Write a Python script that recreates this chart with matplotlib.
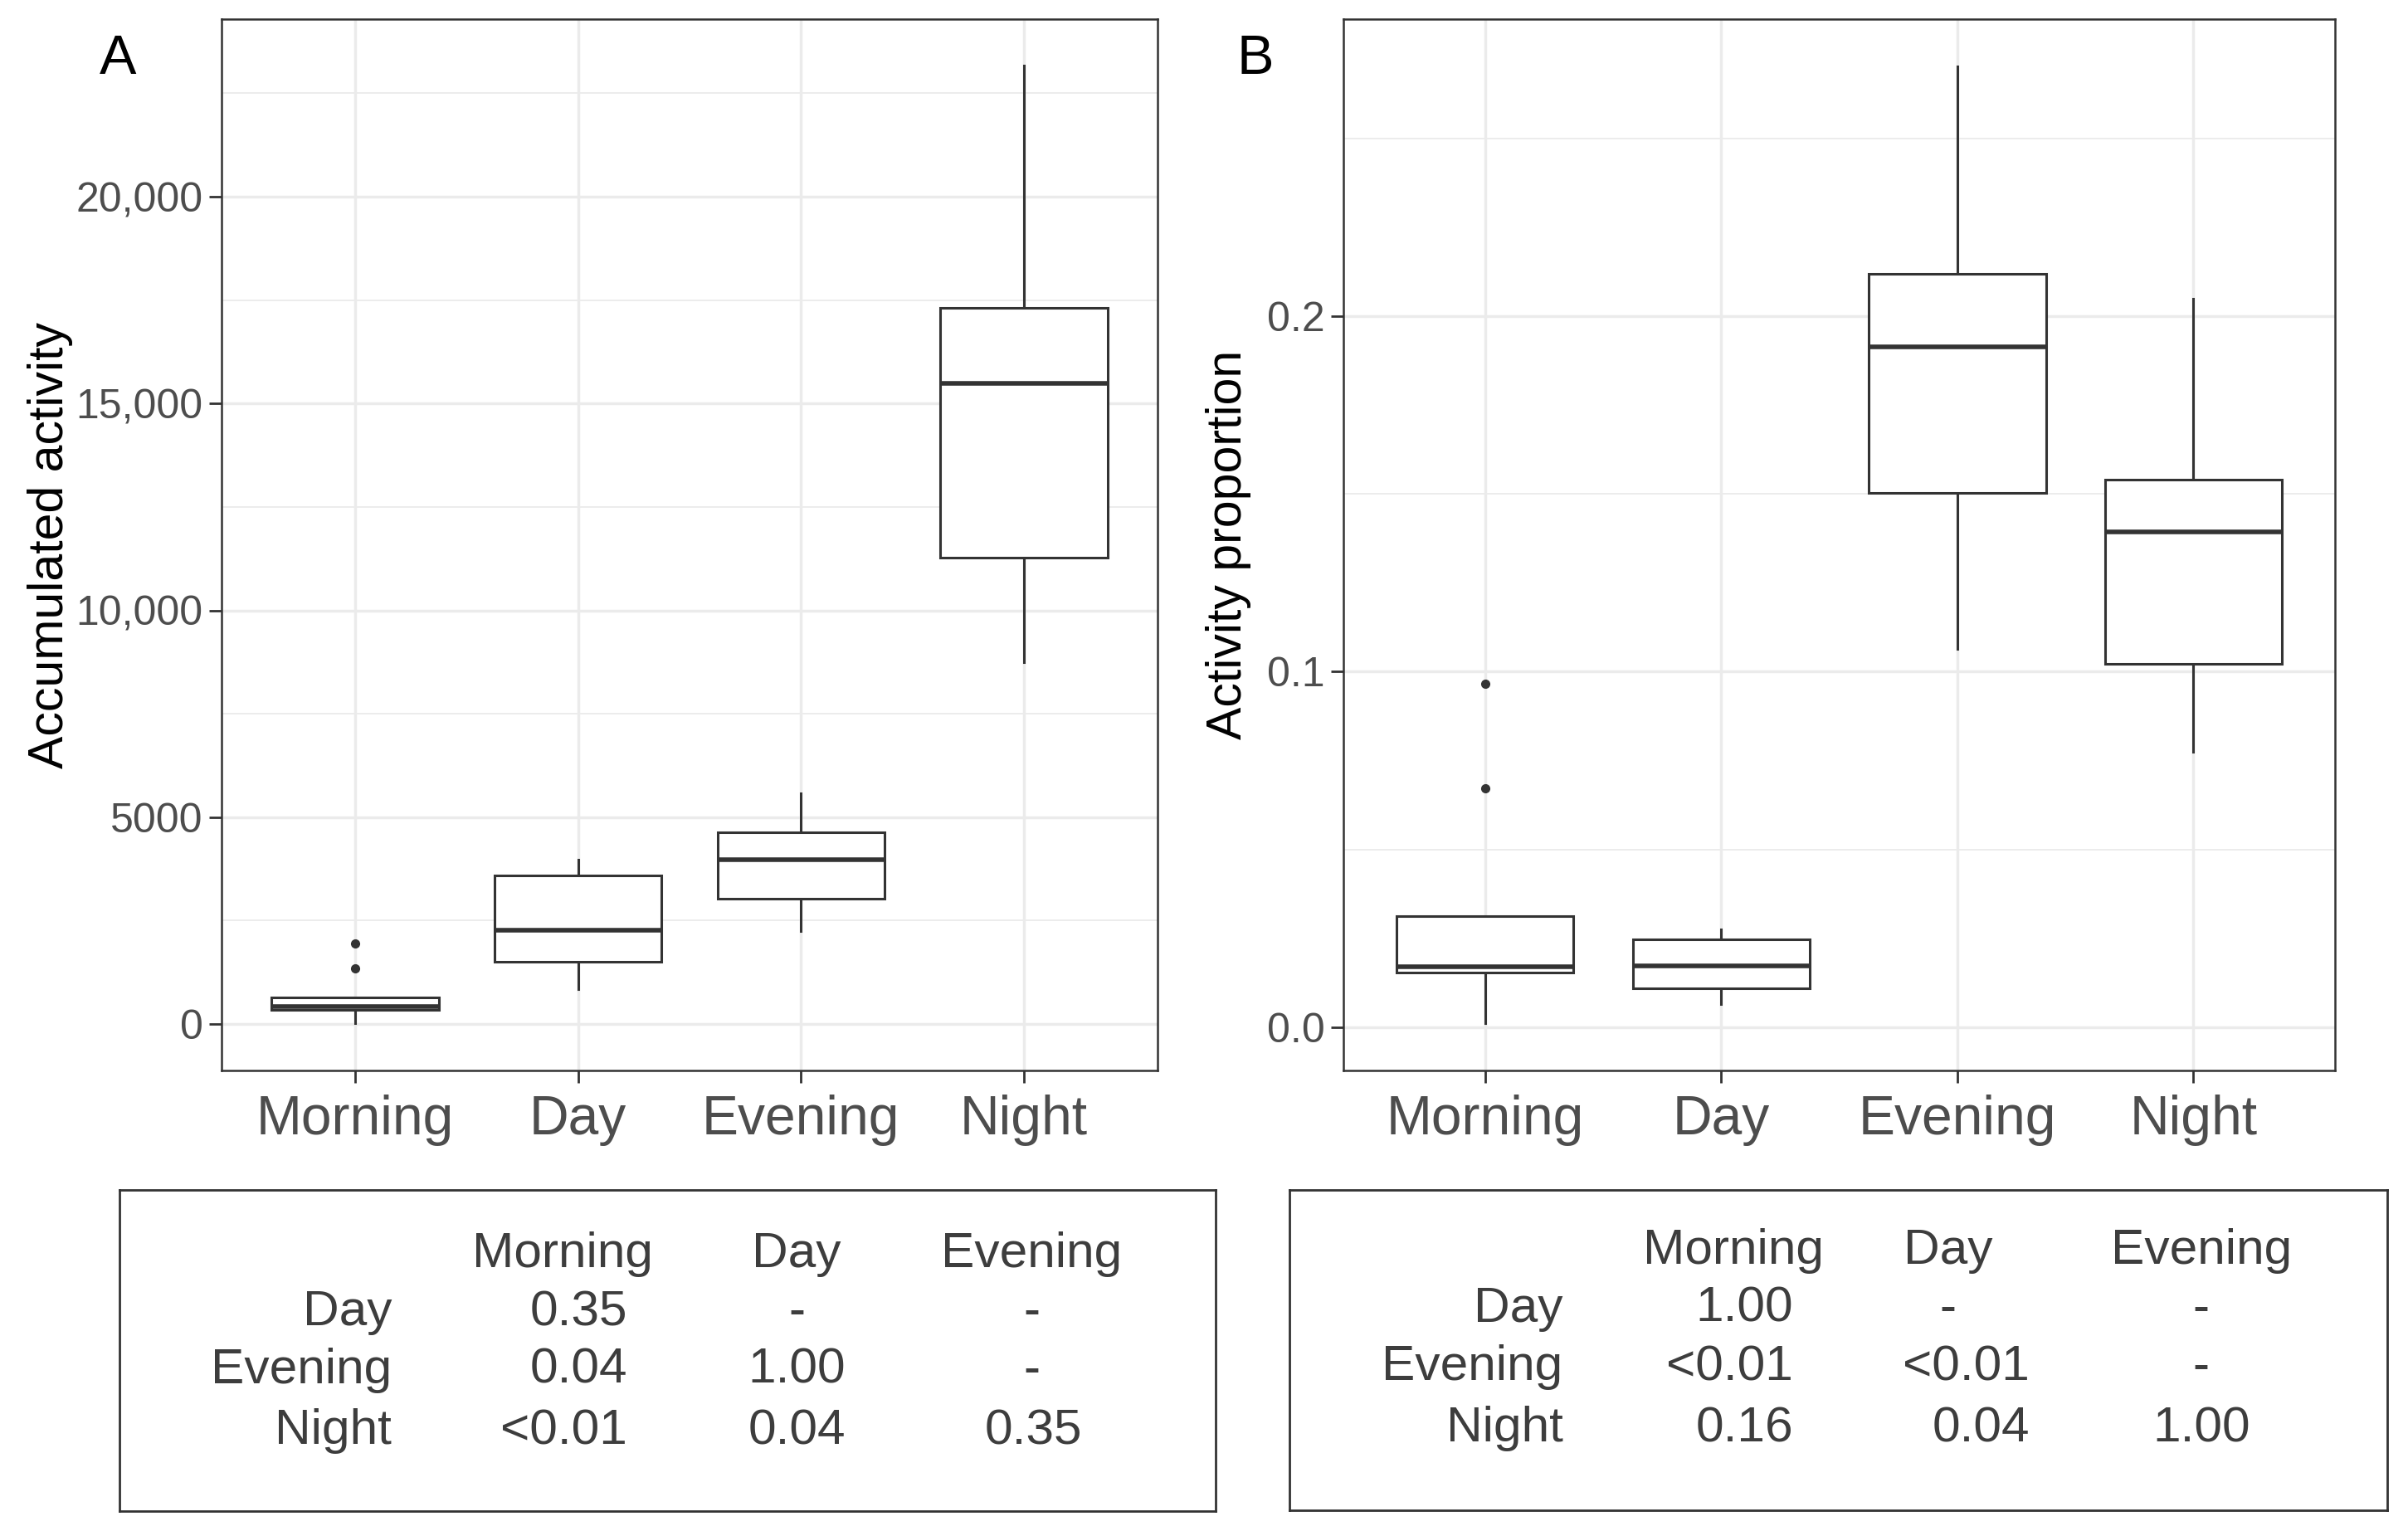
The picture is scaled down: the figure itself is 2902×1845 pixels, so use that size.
import matplotlib
matplotlib.use("Agg")
import matplotlib.pyplot as plt
from matplotlib.ticker import FixedLocator

plt.rcParams['font.family'] = ['Liberation Sans', 'DejaVu Sans']

# data
categories = ["Morning", "Day", "Evening", "Night"]

acc_lo = [20, 843, 2250, 8740]
acc_q1 = [341, 1505, 3040, 11280]
acc_med = [420, 2267, 3975, 15490]
acc_q3 = [642, 3600, 4640, 17310]
acc_hi = [642, 3970, 5585, 23165]
acc_out = [[1344, 1946], [], [], []]
acc_ticks = [0, 5000, 10000, 15000, 20000]
acc_tick_labels = ["0", "5000", "10,000", "15,000", "20,000"]
acc_minor = [2500, 7500, 12500, 17500, 22500]

prop_lo = [0.0012, 0.0065, 0.1065, 0.0775]
prop_q1 = [0.0153, 0.0110, 0.1502, 0.1021]
prop_med = [0.0170, 0.0172, 0.1913, 0.1394]
prop_q3 = [0.0312, 0.0248, 0.2120, 0.1541]
prop_hi = [0.0312, 0.0275, 0.2703, 0.2050]
prop_out = [[0.0673, 0.0966], [], [], []]
prop_ticks = [0.0, 0.1, 0.2]
prop_tick_labels = ["0.0", "0.1", "0.2"]
prop_minor = [0.05, 0.15, 0.25]

col_labels = ["Morning", "Day", "Evening"]
row_labels = ["Day", "Evening", "Night"]
acc_p = [["0.35", "-", "-"],
         ["0.04", "1.00", "-"],
         ["<0.01", "0.04", "0.35"]]
prop_p = [["1.00", "-", "-"],
          ["<0.01", "<0.01", "-"],
          ["0.16", "0.04", "1.00"]]

dark = '#333333'
tick_grey = '#4D4D4D'
grid_col = '#EBEBEB'

fig = plt.figure(figsize=(29.02, 18.45), dpi=100)


def box_panel(rect, lo, q1, med, q3, hi, out, ticks, tick_labels, minor, ylim, ylabel, label_x, letter, letter_x):
    ax = fig.add_axes(rect)
    stats = []
    for i in range(len(categories)):
        stats.append(dict(whislo=lo[i], q1=q1[i], med=med[i], q3=q3[i], whishi=hi[i], fliers=out[i], label=categories[i]))
    bp = ax.bxp(stats, positions=[1, 2, 3, 4], widths=0.75, patch_artist=True, showcaps=False,
                boxprops=dict(facecolor='white', edgecolor=dark, linewidth=2.2),
                medianprops=dict(color=dark, linewidth=4),
                whiskerprops=dict(color=dark, linewidth=2.2),
                flierprops=dict(marker='o', markerfacecolor=dark, markeredgecolor=dark, markersize=7))
    for b in bp['boxes']:
        b.set_zorder(3)
    for m in bp['medians']:
        m.set_zorder(4)
    ax.set_xlim(0.4, 4.6)
    ax.set_ylim(*ylim)
    ax.set_yticks(ticks)
    ax.set_yticklabels(tick_labels)
    ax.yaxis.set_minor_locator(FixedLocator(minor))
    ax.set_axisbelow(True)
    ax.grid(which='major', color=grid_col, linewidth=2.5)
    ax.grid(which='minor', axis='y', color=grid_col, linewidth=1.3)
    ax.tick_params(which='minor', length=0)
    ax.tick_params(axis='both', which='major', length=11, width=2, color=dark, labelcolor=tick_grey)
    ax.tick_params(axis='y', labelsize=36, pad=5)
    ax.tick_params(axis='x', labelsize=47.5, pad=10)
    for s in ax.spines.values():
        s.set_color(dark)
        s.set_linewidth(1.8)
    fig.text(label_x, rect[1] + rect[3] / 2, ylabel, rotation=90, ha='center', va='center', fontsize=42.5, color='black')
    fig.text(letter_x, 0.952, letter, ha='center', va='baseline', fontsize=48, color='black')
    return ax


box_panel([0.0920, 0.3008, 0.4807 - 0.0920, 0.9875 - 0.3008], acc_lo, acc_q1, acc_med, acc_q3, acc_hi, acc_out,
          acc_ticks, acc_tick_labels, acc_minor, (-1123, 24293), "Accumulated activity", 0.021, "A", 0.0491)
box_panel([0.5579, 0.3008, 0.9697 - 0.5579, 0.9875 - 0.3008], prop_lo, prop_q1, prop_med, prop_q3, prop_hi, prop_out,
          prop_ticks, prop_tick_labels, prop_minor, (-0.0122, 0.2836), "Activity proportion", 0.510, "B", 0.5214)


def p_table(rect, values, label_right, col_right, col_center, baselines):
    tax = fig.add_axes(rect)
    tax.set_xticks([])
    tax.set_yticks([])
    for s in tax.spines.values():
        s.set_color(dark)
        s.set_linewidth(2)
    txt = dict(fontsize=43.5, color='#3d3d3d', va='baseline')
    for j, c in enumerate(col_labels):
        fig.text(col_center[j], baselines[0], c, ha='center', **txt)
    for i, r in enumerate(row_labels):
        fig.text(label_right, baselines[i + 1], r, ha='right', **txt)
        for j in range(len(col_labels)):
            v = values[i][j]
            if v == "-":
                fig.text(col_center[j], baselines[i + 1], v, ha='center', **txt)
            else:
                fig.text(col_right[j], baselines[i + 1], v, ha='right', **txt)


p_table([0.0496, 0.0130, 0.5048 - 0.0496, 0.2228 - 0.0130], acc_p, 0.1627,
        [0.2605, 0.3512, 0.4494], [0.2336, 0.3308, 0.4284], [0.1724, 0.1344, 0.0965, 0.0569])
p_table([0.5355, 0.0135, 0.9914 - 0.5355, 0.2228 - 0.0135], prop_p, 0.6490,
        [0.7446, 0.8428, 0.9346], [0.7197, 0.8090, 0.9141], [0.1745, 0.1366, 0.0986, 0.0585])

fig.savefig("out.png", dpi=100, facecolor='white')
